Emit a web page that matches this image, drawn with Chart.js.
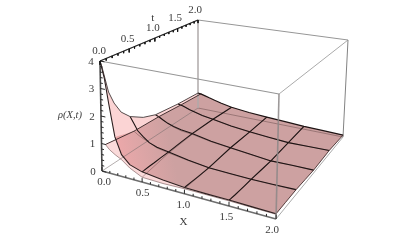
<!DOCTYPE html>
<html>
<head>
<meta charset="utf-8">
<style>
html, body { margin: 0; padding: 0; background: #fff; }
canvas { display: block; }
</style>
<script src="https://cdn.jsdelivr.net/npm/chart.js@4/dist/chart.umd.min.js"></script>
</head>
<body>
<canvas id="surface" width="395" height="241"></canvas>
<script>
// values
const xGrid = [0, 0.05, 0.1, 0.17, 0.25, 0.35, 0.5, 0.75, 1, 1.25, 1.5, 1.75, 2];
const tGrid = [0, 0.03, 0.13, 0.22, 0.34, 0.5, 0.75, 1, 1.5, 2];
// upper sheet, one row per tGrid entry
const rhoUpper = [
  [4.00, 3.40, 2.50, 1.36, 0.78, 0.50, 0.36, 0.27, 0.21, 0.20, 0.20, 0.18, 0.17],
  [3.75, 3.10, 2.35, 1.30, 0.78, 0.50, 0.36, 0.27, 0.21, 0.20, 0.19, 0.18, 0.17],
  [2.73, 2.30, 1.80, 1.14, 0.72, 0.48, 0.37, 0.26, 0.20, 0.18, 0.17, 0.17, 0.17],
  [2.22, 1.90, 1.50, 1.00, 0.66, 0.47, 0.37, 0.26, 0.19, 0.17, 0.16, 0.16, 0.17],
  [1.74, 1.52, 1.22, 0.86, 0.60, 0.46, 0.38, 0.25, 0.18, 0.16, 0.15, 0.16, 0.17],
  [1.38, 1.15, 0.90, 0.72, 0.55, 0.45, 0.38, 0.25, 0.17, 0.15, 0.14, 0.15, 0.17],
  [1.05, 0.92, 0.78, 0.66, 0.55, 0.47, 0.41, 0.28, 0.20, 0.15, 0.11, 0.13, 0.14],
  [0.86, 0.80, 0.72, 0.62, 0.55, 0.48, 0.43, 0.30, 0.22, 0.15, 0.08, 0.10, 0.11],
  [0.74, 0.71, 0.67, 0.60, 0.54, 0.46, 0.40, 0.28, 0.20, 0.15, 0.10, 0.12, 0.14],
  [0.68, 0.66, 0.62, 0.56, 0.50, 0.42, 0.33, 0.25, 0.20, 0.16, 0.12, 0.10, 0.08]
];
// lower sheet starts a little inside the box
const xGridLower = [0.05, 0.1, 0.17, 0.25, 0.35, 0.5, 0.75, 1, 1.25, 1.5, 1.75, 2];
const tGridLower = [0, 0.5, 1, 1.5, 2];
const rhoLower = [
  [1.00, 0.85, 0.72, 0.60, 0.38, 0.17, 0.15, 0.17, 0.17, 0.17, 0.16, 0.15],
  [0.85, 0.75, 0.65, 0.55, 0.42, 0.34, 0.24, 0.16, 0.14, 0.13, 0.14, 0.16],
  [0.82, 0.72, 0.62, 0.52, 0.44, 0.40, 0.28, 0.21, 0.14, 0.08, 0.10, 0.11],
  [0.74, 0.67, 0.60, 0.53, 0.46, 0.39, 0.27, 0.19, 0.14, 0.10, 0.12, 0.14],
  [0.68, 0.64, 0.58, 0.50, 0.42, 0.32, 0.24, 0.19, 0.15, 0.12, 0.10, 0.08]
];
const meshValues = [0.5, 1, 1.5];
const axisTicks = [0, 0.1, 0.2, 0.3, 0.4, 0.5, 0.6, 0.7, 0.8, 0.9, 1, 1.1, 1.2, 1.3, 1.4, 1.5, 1.6, 1.7, 1.8, 1.9, 2];
const rhoTicks = [0, 0.2, 0.4, 0.6, 0.8, 1, 1.2, 1.4, 1.6, 1.8, 2, 2.2, 2.4, 2.6, 2.8, 3, 3.2, 3.4, 3.6, 3.8, 4];
const axisLabels = ["0.0", "0.5", "1.0", "1.5", "2.0"];
const axisLabelValues = [0, 0.5, 1, 1.5, 2];
const rhoLabels = ["0", "1", "2", "3", "4"];
const rhoLabelValues = [0, 1, 2, 3, 4];

// box corners on screen, [x, y], named X-t-rho
const corners = {
  c000: [102, 171], c200: [276, 219], c220: [343, 137], c020: [198, 108],
  c004: [100, 61], c204: [279, 94], c224: [348, 40], c024: [198, 20]
};

function warp(u, k) { return u * (1 + k) / (1 + k * u); }

// view of the box: trilinear between corners with a bit of perspective
function project(X, t, rho) {
  let u = warp(X / 2, -0.1), v = warp(t / 2, 0.27), w = rho / 4;
  let p = [0, 1].map(function (i) {
    let b0 = corners.c000[i] + (corners.c200[i] - corners.c000[i]) * u;
    let b1 = corners.c020[i] + (corners.c220[i] - corners.c020[i]) * u;
    let t0 = corners.c004[i] + (corners.c204[i] - corners.c004[i]) * u;
    let t1 = corners.c024[i] + (corners.c224[i] - corners.c024[i]) * u;
    let b = b0 + (b1 - b0) * v, top = t0 + (t1 - t0) * v;
    return b + (top - b) * w;
  });
  return { x: p[0], y: p[1] };
}

const gap = { x: NaN, y: NaN };
const datasets = [];

function addLine(points, color, width) {
  datasets.push({
    data: points, showLine: true, fill: false, borderColor: color, borderWidth: width,
    pointRadius: 0, tension: 0, spanGaps: false, order: -datasets.length
  });
}
function addFill(points, color) {
  datasets.push({
    data: points, showLine: true, fill: "shape", backgroundColor: color, borderWidth: 0,
    borderColor: "transparent", pointRadius: 0, tension: 0, order: -datasets.length
  });
}

function upperAt(i, j) { return project(xGrid[j], tGrid[i], rhoUpper[i][j]); }
function lowerAt(i, j) { return project(xGridLower[j], tGridLower[i], rhoLower[i][j]); }
function indexes(n) { return Array.from({ length: n }, function (_, i) { return i; }); }

const nX = xGrid.length, nT = tGrid.length, nXL = xGridLower.length, nTL = tGridLower.length;
const upperFront = indexes(nX).map(function (j) { return upperAt(0, j); });
const upperRight = indexes(nT).map(function (i) { return upperAt(i, nX - 1); });
const upperBack = indexes(nX).map(function (j) { return upperAt(nT - 1, j); });
const upperLeft = indexes(nT).map(function (i) { return upperAt(i, 0); });
const lowerFront = indexes(nXL).map(function (j) { return lowerAt(0, j); });
const lowerRight = indexes(nTL).map(function (i) { return lowerAt(i, nXL - 1); });
const lowerBack = indexes(nXL).map(function (j) { return lowerAt(nTL - 1, j); });
const lowerLeft = indexes(nTL).map(function (i) { return lowerAt(i, 0); });

function reversed(a) { return a.slice().reverse(); }

const ctx = document.getElementById("surface").getContext("2d");
const roseGrad = ctx.createLinearGradient(112, 152, 170, 140);
roseGrad.addColorStop(0, "rgb(240,168,170)");
roseGrad.addColorStop(0.4, "rgb(224,166,167)");
roseGrad.addColorStop(1, "rgb(205,161,161)");

// surfaces, back to front
addFill([].concat(upperFront, upperRight, reversed(upperBack), reversed(upperLeft)), "rgb(251,212,212)");
addFill([].concat(lowerFront, lowerRight, reversed(lowerBack), reversed(lowerLeft)), "rgb(250,218,218)");
addFill([].concat(upperFront.slice(3), upperRight, reversed(upperBack).slice(0, nX - 1), reversed(lowerLeft).slice(0, nTL - 1)), roseGrad);

// box edges hidden behind the surface still show through it
function edge(a, b, color, width) {
  addLine([{ x: corners[a][0], y: corners[a][1] }, { x: corners[b][0], y: corners[b][1] }], color, width);
}
edge("c000", "c020", "rgba(120,110,110,0.7)", 0.8);
edge("c020", "c220", "rgba(120,90,90,0.6)", 1);
edge("c020", "c024", "rgb(175,170,170)", 1.5);
edge("c004", "c024", "rgb(165,165,165)", 1);
edge("c024", "c224", "rgb(150,150,150)", 1);
edge("c004", "c204", "rgb(150,150,150)", 1.1);
edge("c224", "c204", "rgb(170,170,170)", 1);
edge("c224", "c220", "rgb(130,130,130)", 1);
edge("c220", "c200", "rgb(170,170,170)", 1);

// mesh lines on both sheets
meshValues.forEach(function (m) {
  let row = tGridLower.indexOf(m);
  addLine(indexes(nXL).map(function (j) { return lowerAt(row, j); }), "rgba(90,60,60,0.5)", 0.8);
  let colL = xGridLower.indexOf(m);
  addLine(indexes(nTL).map(function (i) { return lowerAt(i, colL); }), "rgba(90,60,60,0.5)", 0.8);
});
meshValues.forEach(function (m) {
  let row = tGrid.indexOf(m);
  addLine(indexes(nX).map(function (j) { return upperAt(row, j); }), "rgb(30,20,20)", 1.1);
  let col = xGrid.indexOf(m);
  addLine(indexes(nT).map(function (i) { return upperAt(i, col); }), "rgb(30,20,20)", 1.1);
});

// sheet outlines
addLine(lowerFront, "rgb(150,120,120)", 0.8);
addLine(lowerLeft, "rgb(70,50,50)", 1);
addLine(upperLeft, "rgb(85,75,75)", 1);
addLine(upperFront, "rgb(45,32,32)", 1.1);
addLine(upperBack, "rgb(30,20,20)", 1.2);
addLine(upperRight, "rgb(70,50,50)", 0.9);

// front vertical passes in front of the surface
edge("c200", "c204", "rgba(140,135,135,0.85)", 1.6);

// axes
edge("c000", "c004", "rgb(70,70,70)", 1.6);
edge("c000", "c200", "rgb(110,110,110)", 1.6);
edge("c004", "c024", "rgb(40,40,40)", 1.2);

function ticks(values, makeTick) {
  let pts = [];
  values.forEach(function (v, i) {
    let seg = makeTick(v, i);
    pts.push(seg[0], seg[1], gap);
  });
  return pts;
}
addLine(ticks(rhoTicks, function (v, i) {
  let len = i % 5 === 0 ? 0.055 : 0.03;
  return [project(0, 0, v), project(len, 0, v)];
}), "rgb(40,40,40)", 1);
addLine(ticks(axisTicks, function (v, i) {
  let len = i % 5 === 0 ? 0.14 : 0.08;
  return [project(v, 0, 0), project(v, 0, len)];
}), "rgb(40,40,40)", 1);
addLine(ticks(axisTicks, function (v, i) {
  let len = i % 5 === 0 ? 0.14 : 0.08;
  return [project(0, v, 4), project(0, v, 4 - len)];
}), "rgb(20,20,20)", 1);

// tick labels hang off the same projection as the marks
const textPlugin = {
  id: "boxText",
  afterDatasetsDraw: function (chart) {
    let c = chart.ctx;
    let sx = chart.scales.x, sy = chart.scales.y;
    function put(text, p, dx, dy, font) {
      c.font = font || "11px 'Liberation Serif'";
      c.fillText(text, sx.getPixelForValue(p.x) + dx, sy.getPixelForValue(p.y) + dy);
    }
    c.save();
    c.fillStyle = "#3c3c3c";
    c.textAlign = "center";
    c.textBaseline = "middle";
    axisLabels.forEach(function (s, i) {
      let v = axisLabelValues[i];
      put(s, project(v, 0, 0), 2 - 3 * v, 11);
      put(s, project(0, v, 4), -1 - v, -10);
    });
    rhoLabels.forEach(function (s, i) {
      put(s, project(0, 0, rhoLabelValues[i]), -9, 1);
    });
    put("X", project(1, 0, 0), -1, 28);
    put("t", project(0, 1, 4), -2, -20);
    put("\u03c1(X,t)", project(0, 0, 2), -31, -1, "italic 10.5px 'Liberation Serif'");
    c.restore();
  }
};

new Chart(ctx, {
  type: "scatter",
  data: { datasets: datasets },
  options: {
    responsive: false,
    animation: false,
    layout: { padding: 0 },
    plugins: { legend: { display: false }, tooltip: { enabled: false } },
    scales: {
      x: { type: "linear", display: false, min: 0, max: 395 },
      y: { type: "linear", display: false, min: 0, max: 241, reverse: true }
    }
  },
  plugins: [textPlugin]
});
</script>
</body>
</html>
